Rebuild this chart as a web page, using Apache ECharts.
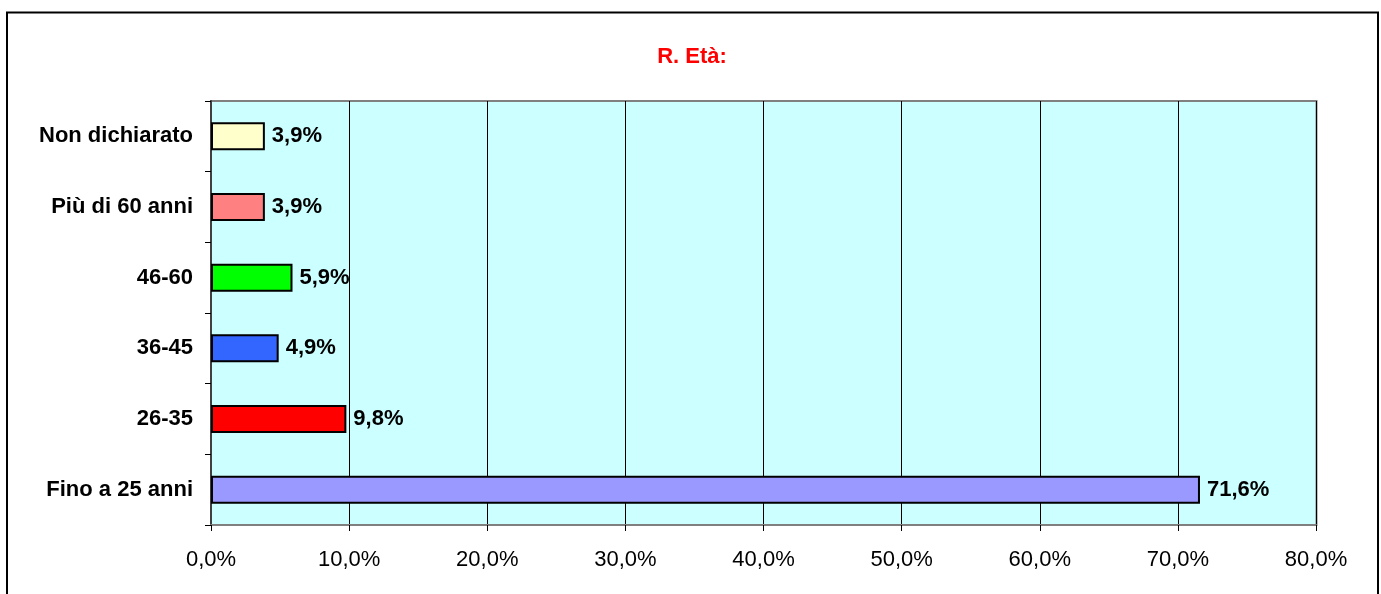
<!DOCTYPE html>
<html><head><meta charset="utf-8">
<script src="https://cdn.jsdelivr.net/npm/echarts@6/dist/echarts.min.js"></script>
<style>html,body{margin:0;padding:0;background:#fff}#c{width:1381px;height:594px}</style>
</head><body><div id="c"></div>
<script>
const categories = ['Fino a 25 anni', '26-35', '36-45', '46-60', 'Più di 60 anni', 'Non dichiarato'];
const values = [71.6, 9.8, 4.9, 5.9, 3.9, 3.9];
const barColors = ['#9999FF', '#FF0000', '#3366FF', '#00FF00', '#FF8080', '#FFFFCC'];
const xTicks = [0, 10, 20, 30, 40, 50, 60, 70, 80];
const titleText = 'R. Età:';

const fmt = v => v.toFixed(1).replace('.', ',') + '%';
const FONT = 'Liberation Sans, Arial';
const chart = echarts.init(document.getElementById('c'), null, {renderer: 'canvas'});
chart.setOption({
  animation: false,
  backgroundColor: '#fff',
  title: {
    text: titleText, left: 687, top: 41, textAlign: 'center',
    textStyle: {color: '#FF0000', fontFamily: FONT, fontWeight: 'bold', fontSize: 22}
  },
  graphic: [{
    type: 'rect', shape: {x: 7, y: 12.5, width: 1371, height: 600},
    style: {fill: 'none', stroke: '#000', lineWidth: 2}, silent: true, z: 100
  }, {
    type: 'rect', shape: {x: 211, y: 101, width: 1105.5, height: 424},
    style: {fill: 'none', stroke: '#808080', lineWidth: 2}, silent: true, z: 0
  }],
  grid: {left: 211, right: 65, top: 101, bottom: 69, backgroundColor: '#CCFFFF', show: true, borderWidth: 0},
  xAxis: {
    type: 'value', min: xTicks[0], max: xTicks[xTicks.length - 1], interval: 10,
    axisLine: {show: true, lineStyle: {color: '#808080', width: 2}},
    axisTick: {show: true, length: 6, lineStyle: {color: '#000'}},
    axisLabel: {formatter: v => fmt(v), margin: 24, color: '#000', fontSize: 22, fontFamily: FONT},
    splitLine: {show: true, lineStyle: {color: '#000', width: 1}}
  },
  yAxis: {
    type: 'category', data: categories,
    axisLine: {show: true, lineStyle: {color: '#404040', width: 2}},
    axisTick: {show: true, length: 6, lineStyle: {color: '#000'}},
    axisLabel: {margin: 18, color: '#000', fontSize: 22, fontWeight: 'bold', fontFamily: FONT}
  },
  series: [{
    type: 'bar', barWidth: 28,
    data: values.map((v, i) => ({value: v, itemStyle: {color: barColors[i]}})),
    itemStyle: {borderColor: '#000', borderWidth: 2},
    label: {show: true, position: 'right', distance: 7, formatter: p => fmt(p.value),
      color: '#000', fontSize: 22, fontWeight: 'bold', fontFamily: FONT},
    z: 3
  }]
});
</script></body></html>
